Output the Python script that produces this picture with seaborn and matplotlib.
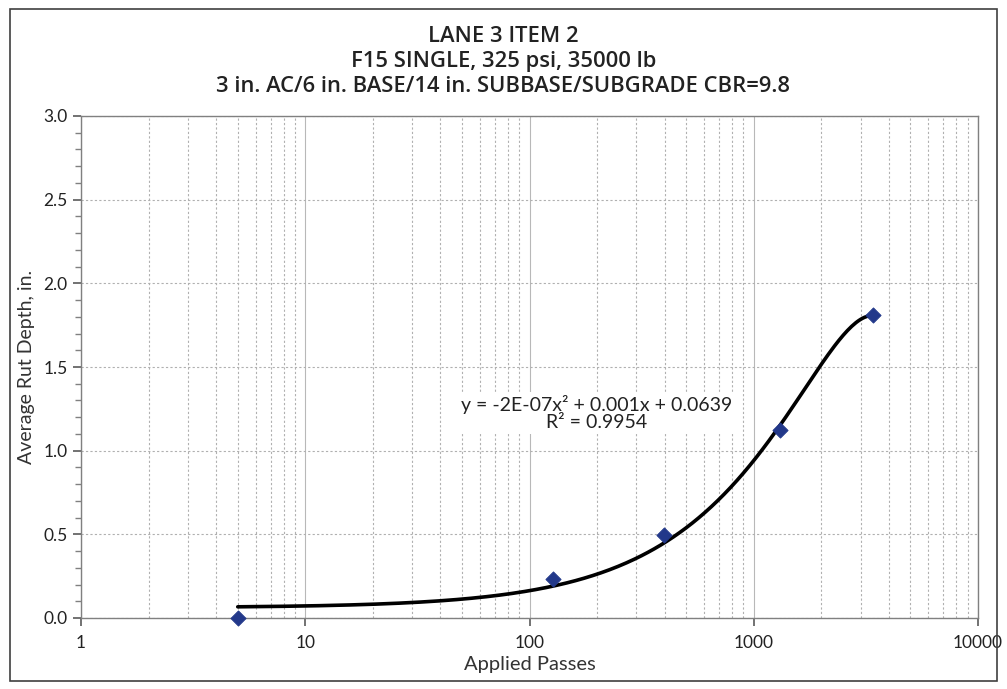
import numpy as np
import pandas as pd
import matplotlib
matplotlib.use("Agg")
import matplotlib.pyplot as plt
from matplotlib.ticker import FixedLocator, NullFormatter, MultipleLocator, FuncFormatter
from matplotlib.patches import Rectangle
import seaborn as sns

# Data
passes = [5, 127, 398, 1309, 3400]
rut_depth = [0.0, 0.233, 0.496, 1.124, 1.811]
title_lines = ["LANE 3 ITEM 2",
               "F15 SINGLE, 325 psi, 35000 lb",
               "3 in. AC/6 in. BASE/14 in. SUBBASE/SUBGRADE CBR=9.8"]
eq_text = "y = -2E-07x² + 0.001x + 0.0639\nR² = 0.9954"
x_ticks = [1, 10, 100, 1000, 10000]
x_tick_labels = ["1", "10", "100", "1000", "10000"]

sns.set_theme(style="white")
plt.rcParams['font.family'] = ['Lato', 'DejaVu Sans']

fig = plt.figure(figsize=(10.07, 6.89), dpi=100)
ax = fig.add_axes([81/1007, 1-618/689, (978-81)/1007, (618-116)/689])

# Trendline: quadratic fit
coef = np.polyfit(passes, rut_depth, 2)
xs = np.logspace(np.log10(passes[0]), np.log10(passes[-1]), 300)
fit_df = pd.DataFrame({"x": xs, "y": np.polyval(coef, xs)})
pts_df = pd.DataFrame({"x": passes, "y": rut_depth})

ax.set_xscale("log")
ax.set_xlim(1, 10000)
ax.set_ylim(0, 3.0)

ax.xaxis.set_major_locator(FixedLocator(x_ticks))
ax.xaxis.set_major_formatter(FuncFormatter(
    lambda v, p: x_tick_labels[x_ticks.index(int(round(v)))] if int(round(v)) in x_ticks else ""))
minors = [m * 10**e for e in range(0, 4) for m in range(2, 10)]
ax.xaxis.set_minor_locator(FixedLocator(minors))
ax.xaxis.set_minor_formatter(NullFormatter())
ax.yaxis.set_major_locator(MultipleLocator(0.5))
ax.yaxis.set_minor_locator(MultipleLocator(0.1))
ax.yaxis.set_major_formatter(FuncFormatter(lambda v, p: f"{v:.1f}"))

ax.grid(which="major", axis="x", color="#b8b8b8", linestyle="-", linewidth=0.8)
ax.grid(which="minor", axis="x", color="#b0b0b0", linestyle=(0, (2, 2)), linewidth=0.8)
ax.grid(which="major", axis="y", color="#b0b0b0", linestyle=(0, (2, 2)), linewidth=0.8)
ax.set_axisbelow(True)

sns.lineplot(data=fit_df, x="x", y="y", ax=ax, color="black", linewidth=2.6, zorder=3)
sns.scatterplot(data=pts_df, x="x", y="y", ax=ax, marker="D", s=60,
                color="#22388a", edgecolor="#22388a", zorder=4, clip_on=False)

for s in ax.spines.values():
    s.set_color("#808080")
    s.set_linewidth(1.0)

ax.tick_params(axis="x", which="major", direction="out", length=6, color="#606060",
               labelsize=12.5, pad=6, bottom=True, labelcolor="#222222")
ax.tick_params(axis="x", which="minor", length=0)
ax.tick_params(axis="y", which="major", direction="out", length=6, color="#606060",
               labelsize=12.5, left=True, labelcolor="#222222")
ax.tick_params(axis="y", which="minor", direction="out", length=4, color="#808080", left=True)

ax.set_xlabel("Applied Passes", fontsize=14.5, color="#333333", labelpad=4)
ax.set_ylabel("Average Rut Depth, in.", fontsize=14, color="#333333", labelpad=6)

ax.text(0.575, 0.408, eq_text, transform=ax.transAxes, ha="center", va="center",
        fontsize=14, color="#222222", linespacing=1.0,
        bbox=dict(facecolor="white", edgecolor="none", pad=2), zorder=5)

for line, ypx in zip(title_lines, [37, 62, 87]):
    fig.text(0.5, 1-ypx/689, line, ha="center", va="center",
             fontsize=15.8, color="#222222", fontweight=600,
             family=["Open Sans", "DejaVu Sans"])

fig.patches.append(Rectangle((10/1007, 8/689), 987/1007, 672/689,
                             transform=fig.transFigure, fill=False,
                             edgecolor="#404040", linewidth=1.2))

fig.savefig("out.png", dpi=100)
